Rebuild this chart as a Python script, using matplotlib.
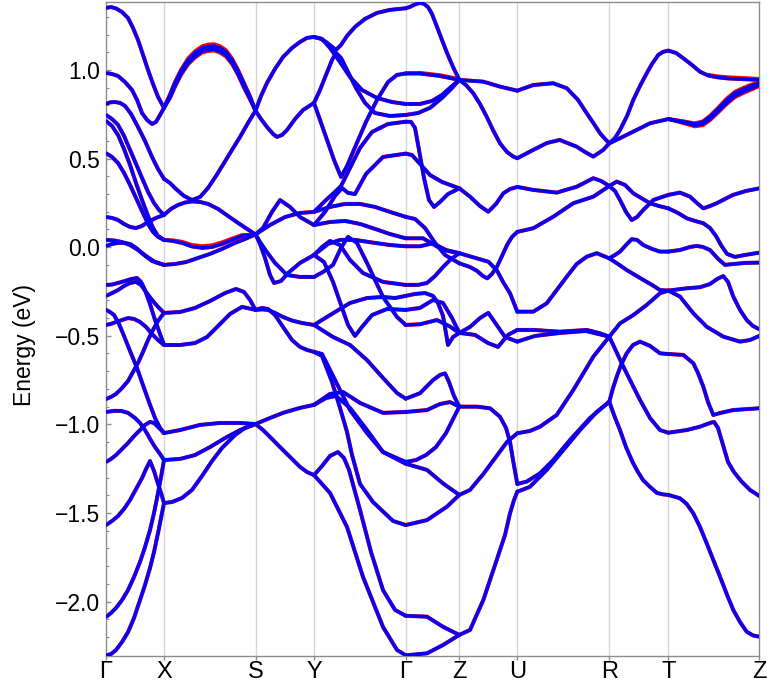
import matplotlib.pyplot as plt
from matplotlib.ticker import MultipleLocator, FuncFormatter

plt.rcParams['font.family'] = ['Liberation Sans', 'DejaVu Sans']

# path length along the k-path (arbitrary units) and the high-symmetry labels
K_TICKS = [0, 58, 149.5, 208, 299.7, 353.3, 411.3, 503.3, 562.3, 653.3]
K_LABELS = ["Γ", "X", "S", "Y", "Γ", "Z", "U", "R", "T", "Z"]
E_TICKS = [-2.0, -1.5, -1.0, -0.5, 0.0, 0.5, 1.0]
E_RANGE = (-2.307, 1.385)

# bands, segment by segment: each band piece is a list of (k, E[eV])
GX = [
    [(0, 1.350), (5, 1.355), (10, 1.347), (16, 1.327), (22, 1.293), (27, 1.237), (32, 1.169), (37, 1.085), (42, 1.000), (47, 0.921), (52, 0.848), (58, 0.786)],
    [(0, 0.983), (6, 0.977), (12, 0.966), (19, 0.932), (26, 0.887), (31, 0.831), (36, 0.757), (41, 0.718), (46, 0.695), (50, 0.707), (54, 0.746), (58, 0.786)],
    [(0, 0.808), (4, 0.817), (9, 0.819), (14, 0.814), (19, 0.797), (25, 0.752), (32, 0.678), (39, 0.599), (46, 0.509), (52, 0.441), (58, 0.385)],
    [(0, 0.746), (6, 0.723), (12, 0.690), (18, 0.628), (24, 0.549), (30, 0.470), (36, 0.390), (42, 0.312), (48, 0.249), (53, 0.210), (58, 0.182)],
    [(0, 0.712), (6, 0.684), (12, 0.633), (18, 0.554), (24, 0.464), (30, 0.362), (36, 0.266), (42, 0.176), (47, 0.108), (52, 0.063), (58, 0.041)],
    [(0, 0.530), (6, 0.509), (12, 0.475), (18, 0.419), (24, 0.351), (30, 0.278), (36, 0.204), (42, 0.131), (47, 0.086), (52, 0.058), (58, 0.041)],
    [(0, 0.170), (6, 0.165), (12, 0.153), (18, 0.131), (24, 0.114), (30, 0.108), (36, 0.120), (42, 0.142), (50, 0.165), (58, 0.182)],
    [(0, 0.041), (8, 0.038), (16, 0.029), (24, 0.012), (32, -0.016), (40, -0.050), (49, -0.084), (58, -0.100)],
    [(0, 0.007), (6, 0.018), (12, 0.024), (18, 0.024), (24, 0.018), (30, -0.004), (38, -0.044), (46, -0.078), (58, -0.100)],
    [(0, -0.213), (6, -0.211), (12, -0.202), (19, -0.191), (25, -0.180), (31, -0.174), (35, -0.196), (39, -0.242), (44, -0.321), (49, -0.411), (54, -0.490), (58, -0.552)],
    [(0, -0.275), (6, -0.259), (12, -0.242), (18, -0.219), (24, -0.202), (30, -0.196), (35, -0.213), (40, -0.253), (46, -0.298), (52, -0.337), (58, -0.371)],
    [(0, -0.354), (4, -0.366), (8, -0.383), (13, -0.433), (18, -0.501), (24, -0.586), (31, -0.682), (38, -0.795), (44, -0.890), (49, -0.964), (54, -1.020), (58, -1.049)],
    [(0, -0.439), (5, -0.433), (10, -0.422), (16, -0.411), (22, -0.400), (28, -0.405), (34, -0.422), (40, -0.450), (46, -0.490), (52, -0.524), (58, -0.552)],
    [(0, -0.857), (5, -0.845), (10, -0.828), (16, -0.795), (22, -0.755), (27, -0.704), (32, -0.653), (37, -0.591), (42, -0.524), (47, -0.467), (52, -0.416), (58, -0.371)],
    [(0, -0.930), (8, -0.924), (15, -0.924), (22, -0.935), (29, -0.964), (34, -0.992), (39, -1.032), (44, -1.082), (49, -1.128), (54, -1.167), (58, -1.201)],
    [(0, -1.212), (5, -1.195), (10, -1.173), (16, -1.139), (22, -1.105), (28, -1.066), (34, -1.032), (39, -1.003), (44, -0.986), (48, -0.992), (53, -1.020), (58, -1.049)],
    [(0, -1.568), (6, -1.545), (12, -1.517), (18, -1.477), (24, -1.427), (30, -1.365), (36, -1.303), (40, -1.252), (44, -1.207), (48, -1.263), (52, -1.336), (55, -1.387), (58, -1.444)],
    [(0, -2.087), (5, -2.064), (10, -2.036), (16, -1.991), (22, -1.935), (28, -1.861), (34, -1.776), (39, -1.692), (44, -1.596), (48, -1.500), (52, -1.387), (55, -1.297), (58, -1.201)],
    [(0, -2.303), (5, -2.296), (10, -2.273), (16, -2.228), (22, -2.172), (28, -2.092), (34, -1.991), (39, -1.906), (44, -1.810), (48, -1.720), (52, -1.613), (55, -1.528), (58, -1.444)],
]

XS = [
    [(58, 0.786), (64, 0.859), (69, 0.927), (75, 0.994), (82, 1.056), (89, 1.096), (96, 1.124), (102, 1.133), (108, 1.135), (114, 1.124), (120, 1.102), (126, 1.056), (132, 0.994), (138, 0.921), (144, 0.848), (149.5, 0.770)],
    [(58, 0.786), (64, 0.845), (69, 0.910), (75, 0.977), (82, 1.037), (89, 1.076), (96, 1.104), (102, 1.113), (108, 1.116), (114, 1.104), (120, 1.082), (126, 1.039), (132, 0.977), (138, 0.904), (144, 0.836), (149.5, 0.770)],
    [(58, 0.385), (64, 0.362), (70, 0.328), (78, 0.289), (86, 0.266), (94, 0.283), (102, 0.334), (110, 0.402), (118, 0.475), (126, 0.549), (134, 0.622), (142, 0.701), (149.5, 0.770)],
    [(58, 0.182), (65, 0.216), (72, 0.238), (79, 0.252), (86, 0.258), (94, 0.255), (102, 0.244), (112, 0.216), (122, 0.176), (132, 0.137), (141, 0.103), (149.5, 0.072)],
    [(58, 0.041), (67, 0.035), (76, 0.024), (86, 0.004), (96, -0.004), (106, 0.001), (116, 0.018), (126, 0.041), (136, 0.063), (149.5, 0.072)],
    [(58, -0.100), (69, -0.095), (80, -0.084), (92, -0.061), (104, -0.038), (116, -0.010), (129, 0.024), (139, 0.046), (149.5, 0.072)],
    [(58, -0.371), (74, -0.366), (89, -0.343), (104, -0.304), (119, -0.259), (130, -0.236), (138, -0.253), (144, -0.298), (149.5, -0.354)],
    [(58, -0.552), (74, -0.552), (89, -0.541), (101, -0.507), (112, -0.445), (124, -0.377), (136, -0.337), (149.5, -0.354)],
    [(58, -1.049), (74, -1.032), (94, -1.003), (114, -0.992), (134, -0.992), (149.5, -0.998)],
    [(58, -1.201), (74, -1.195), (89, -1.173), (104, -1.128), (119, -1.077), (134, -1.032), (149.5, -0.998)],
    [(58, -1.444), (66, -1.438), (76, -1.415), (86, -1.370), (96, -1.291), (106, -1.207), (116, -1.133), (129, -1.060), (139, -1.020), (149.5, -0.998)],
]

SY = [
    [(149.5, 0.770), (155, 0.853), (161, 0.927), (169, 1.006), (177, 1.073), (186, 1.124), (194, 1.158), (201, 1.181), (208, 1.186)],
    [(149.5, 0.770), (155, 0.723), (161, 0.678), (167, 0.639), (171, 0.622), (176, 0.633), (181, 0.661), (189, 0.723), (197, 0.774), (208, 0.814)],
    [(149.5, 0.072), (157, 0.108), (166, 0.199), (174, 0.266), (184, 0.227), (194, 0.170), (208, 0.125)],
    [(149.5, 0.072), (164, 0.125), (179, 0.170), (194, 0.193), (208, 0.199)],
    [(149.5, 0.072), (154, 0.018), (159, -0.061), (164, -0.157), (168, -0.202), (175, -0.191), (182, -0.146), (194, -0.089), (208, -0.044)],
    [(149.5, 0.072), (154, 0.029), (160, -0.021), (169, -0.089), (181, -0.157), (194, -0.168), (208, -0.168)],
    [(149.5, -0.354), (156, -0.351), (162, -0.354), (169, -0.371), (177, -0.394), (186, -0.414), (196, -0.428), (208, -0.439)],
    [(149.5, -0.354), (156, -0.343), (162, -0.349), (169, -0.383), (177, -0.450), (186, -0.524), (194, -0.563), (201, -0.580), (208, -0.591)],
    [(149.5, -0.998), (164, -0.964), (177, -0.935), (194, -0.907), (208, -0.890)],
    [(149.5, -0.998), (157, -1.032), (164, -1.071), (171, -1.111), (177, -1.145), (184, -1.184), (194, -1.240), (201, -1.269), (208, -1.286)],
]

YG = [
    [(208, 1.186), (214, 1.178), (220, 1.158), (225, 1.135), (230, 1.113), (235, 1.141), (241, 1.192), (249, 1.243), (259, 1.288), (271, 1.322), (284, 1.339), (299.7, 1.348)],
    [(208, 1.186), (216, 1.175), (224, 1.124), (234, 1.045), (244, 0.960), (256, 0.887), (271, 0.842), (286, 0.819), (299.7, 0.808)],
    [(208, 0.814), (214, 0.887), (220, 0.972), (226, 1.056), (230, 1.096), (235, 1.068), (242, 0.989), (250, 0.898), (259, 0.814), (269, 0.757), (284, 0.740), (299.7, 0.746)],
    [(208, 0.814), (214, 0.718), (221, 0.605), (228, 0.492), (235, 0.396), (241, 0.458), (250, 0.577), (260, 0.707), (271, 0.831), (282, 0.932), (291, 0.972), (299.7, 0.980)],
    [(208, 0.199), (220, 0.266), (229, 0.312), (235, 0.345), (244, 0.447), (254, 0.560), (266, 0.650), (282, 0.695), (299.7, 0.708)],
    [(208, 0.125), (219, 0.199), (229, 0.289), (236, 0.334), (242, 0.306), (249, 0.300), (260, 0.413), (277, 0.509), (299.7, 0.528)],
    [(208, 0.199), (224, 0.227), (239, 0.244), (254, 0.244), (269, 0.227), (284, 0.199), (299.7, 0.171)],
    [(208, 0.125), (224, 0.142), (239, 0.148), (254, 0.131), (269, 0.103), (284, 0.074), (299.7, 0.050)],
    [(208, -0.044), (216, 0.001), (224, 0.035), (234, 0.012), (244, -0.072), (257, -0.146), (277, -0.196), (299.7, -0.213)],
    [(208, -0.044), (222, 0.018), (234, 0.041), (249, 0.041), (269, 0.024), (284, 0.012), (299.7, 0.005)],
    [(208, -0.168), (217, -0.140), (227, -0.100), (235, -0.004), (242, 0.058), (251, 0.024), (261, -0.089), (277, -0.281), (291, -0.394), (299.7, -0.439)],
    [(208, -0.044), (218, -0.084), (227, -0.196), (235, -0.326), (242, -0.439), (249, -0.501), (256, -0.450), (266, -0.383), (281, -0.349), (299.7, -0.354)],
    [(208, -0.439), (224, -0.383), (244, -0.315), (261, -0.287), (277, -0.281), (289, -0.287), (299.7, -0.275)],
    [(208, -0.439), (227, -0.507), (244, -0.552), (261, -0.637), (277, -0.738), (291, -0.823), (299.7, -0.855)],
    [(208, -0.591), (216, -0.603), (224, -0.693), (234, -0.806), (244, -0.919), (261, -1.049), (277, -1.156), (299.7, -1.212)],
    [(208, -0.591), (216, -0.614), (226, -0.761), (234, -0.907), (241, -1.043), (246, -1.173), (254, -1.336), (267, -1.438), (287, -1.545), (299.7, -1.568)],
    [(208, -0.890), (224, -0.828), (237, -0.817), (254, -0.879), (277, -0.935), (299.7, -0.930)],
    [(208, -0.890), (220, -0.851), (230, -0.840), (244, -0.907), (261, -1.032), (277, -1.156), (299.7, -1.222)],
    [(208, -1.286), (216, -1.235), (224, -1.178), (232, -1.156), (238, -1.190), (243, -1.257), (254, -1.483), (265, -1.720), (277, -1.935), (289, -2.047), (299.7, -2.080)],
    [(208, -1.286), (224, -1.387), (241, -1.579), (257, -1.861), (277, -2.143), (291, -2.273), (299.7, -2.303)],
]

GZ = [
    [(299.7, 1.348), (304, 1.356), (309, 1.370), (314, 1.378), (318, 1.373), (322, 1.355), (326, 1.316), (331, 1.243), (336, 1.169), (341, 1.096), (347, 1.017), (353.3, 0.944)],
    [(299.7, 0.980), (314, 0.980), (334, 0.966), (353.3, 0.944)],
    [(299.7, 0.808), (314, 0.808), (326, 0.825), (336, 0.859), (345, 0.904), (353.3, 0.944)],
    [(299.7, 0.746), (312, 0.757), (324, 0.786), (336, 0.842), (346, 0.898), (353.3, 0.944)],
    [(299.7, 0.708), (305, 0.707), (309, 0.673), (313, 0.549), (318, 0.390), (323, 0.266), (328, 0.227), (334, 0.255), (342, 0.300), (353.3, 0.332)],
    [(299.7, 0.528), (306, 0.520), (314, 0.470), (324, 0.407), (336, 0.368), (353.3, 0.332)],
    [(299.7, 0.171), (309, 0.159), (319, 0.108), (329, 0.024), (339, -0.044), (353.3, -0.091)],
    [(299.7, 0.050), (317, 0.050), (337, -0.016), (353.3, -0.034)],
    [(299.7, 0.005), (314, 0.005), (327, 0.022), (340, -0.016), (353.3, -0.034)],
    [(299.7, -0.213), (312, -0.213), (321, -0.202), (329, -0.163), (337, -0.112), (345, -0.067), (353.3, -0.034)],
    [(299.7, -0.275), (309, -0.264), (319, -0.259), (327, -0.275), (332, -0.315), (337, -0.388), (342, -0.552), (347, -0.507), (353.3, -0.484)],
    [(299.7, -0.354), (314, -0.343), (327, -0.298), (337, -0.315), (346, -0.400), (353.3, -0.484)],
    [(299.7, -0.439), (314, -0.435), (331, -0.411), (344, -0.448), (353.3, -0.484)],
    [(299.7, -0.855), (314, -0.824), (327, -0.750), (334, -0.721), (339, -0.712), (343, -0.761), (348, -0.840), (353.3, -0.900)],
    [(299.7, -0.930), (321, -0.919), (334, -0.885), (344, -0.874), (353.3, -0.900)],
    [(299.7, -1.212), (310, -1.201), (320, -1.173), (330, -1.128), (340, -1.049), (353.3, -0.900)],
    [(299.7, -1.222), (321, -1.257), (337, -1.333), (353.3, -1.398)],
    [(299.7, -1.568), (321, -1.540), (341, -1.464), (353.3, -1.398)],
    [(299.7, -2.080), (321, -2.085), (337, -2.142), (353.3, -2.188)],
    [(299.7, -2.303), (321, -2.292), (337, -2.245), (353.3, -2.188)],
]

ZU = [
    [(353.3, 0.944), (377.3, 0.934), (394, 0.906), (411.3, 0.883)],
    [(353.3, 0.944), (360, 0.915), (367.3, 0.868), (374, 0.808), (380.7, 0.736), (387, 0.661), (394, 0.586), (401, 0.537), (407.3, 0.511), (411.3, 0.502)],
    [(353.3, 0.332), (364, 0.285), (374, 0.232), (382.3, 0.200), (390, 0.244), (397.3, 0.304), (404, 0.328), (411.3, 0.340)],
    [(353.3, -0.034), (370.7, -0.063), (382.3, -0.082), (390.7, -0.129), (397, -0.196), (404, -0.260), (411.3, -0.364)],
    [(353.3, -0.091), (364, -0.112), (371, -0.134), (377, -0.163), (381.3, -0.176), (386, -0.151), (391, -0.110), (396, -0.050), (401, 0.012), (406, 0.058), (411.3, 0.086)],
    [(353.3, -0.484), (364, -0.450), (374, -0.400), (382.3, -0.371), (390.7, -0.439), (399, -0.507), (411.3, -0.533)],
    [(353.3, -0.484), (369, -0.495), (382, -0.541), (392, -0.563), (402, -0.495), (411.3, -0.467)],
    [(353.3, -0.900), (370.7, -0.900), (384, -0.909), (394, -0.957), (400, -1.020), (404, -1.099), (407, -1.201), (411.3, -1.336)],
    [(353.3, -1.398), (364, -1.370), (377.3, -1.280), (390.7, -1.178), (401, -1.099), (411.3, -1.050)],
    [(353.3, -2.188), (364, -2.160), (377.3, -1.991), (390.7, -1.765), (399, -1.624), (404, -1.502), (408, -1.427), (411.3, -1.380)],
]

UR = [
    [(411.3, 0.883), (427.3, 0.915), (447.3, 0.925), (460.7, 0.897), (472, 0.831), (480.7, 0.756), (488, 0.695), (494, 0.643), (499, 0.611), (503.3, 0.586)],
    [(411.3, 0.502), (427.3, 0.549), (441, 0.588), (453.7, 0.605), (470.7, 0.567), (479, 0.537), (487.3, 0.511), (497.3, 0.549), (503.3, 0.586)],
    [(411.3, 0.340), (427.3, 0.323), (450.7, 0.308), (470.7, 0.341), (487.3, 0.389), (495, 0.374), (503.3, 0.345)],
    [(411.3, 0.086), (427.3, 0.107), (447.3, 0.172), (467.3, 0.248), (487.3, 0.285), (503.3, 0.345)],
    [(411.3, -0.364), (427.3, -0.364), (440.7, -0.317), (450.7, -0.242), (460.7, -0.167), (470.7, -0.095), (480.7, -0.054), (490.7, -0.034), (503.3, -0.063)],
    [(411.3, -0.467), (427.3, -0.467), (454, -0.477), (480.7, -0.467), (494, -0.486), (503.3, -0.505)],
    [(411.3, -0.533), (429, -0.501), (454, -0.484), (480, -0.473), (503.3, -0.505)],
    [(411.3, -1.050), (424, -1.037), (434, -1.013), (450.7, -0.947), (467.3, -0.806), (487.3, -0.618), (503.3, -0.505)],
    [(411.3, -1.336), (420.7, -1.323), (434, -1.276), (447.3, -1.201), (464, -1.088), (484, -0.964), (503.3, -0.872)],
    [(411.3, -1.380), (424, -1.352), (440.7, -1.257), (457.3, -1.145), (474, -1.032), (490.7, -0.930), (503.3, -0.872)],
]

RT = [
    [(503.3, 0.586), (509, 0.616), (514, 0.661), (521, 0.740), (527.3, 0.831), (534, 0.910), (540.7, 0.981), (546, 1.034), (552.3, 1.085), (557, 1.102), (562.3, 1.109)],
    [(503.3, 0.586), (514, 0.615), (527.3, 0.652), (544, 0.699), (562.3, 0.723)],
    [(503.3, 0.345), (509, 0.317), (514, 0.266), (520, 0.199), (525.7, 0.153), (531, 0.170), (537.3, 0.210), (547.3, 0.266), (562.3, 0.295)],
    [(503.3, 0.345), (510.7, 0.370), (519, 0.351), (527.3, 0.304), (535, 0.278), (544, 0.248), (553, 0.232), (562.3, 0.219)],
    [(503.3, -0.063), (509, -0.044), (514, -0.025), (520, 0.012), (525.7, 0.045), (531, 0.041), (537.3, 0.012), (546, -0.010), (554, -0.025), (562.3, -0.025)],
    [(503.3, -0.063), (512, -0.095), (520.7, -0.129), (529, -0.157), (537.3, -0.185), (546, -0.213), (554, -0.242), (562.3, -0.245)],
    [(503.3, -0.505), (514, -0.430), (527.3, -0.383), (540.7, -0.326), (554, -0.260), (562.3, -0.245)],
    [(503.3, -0.505), (510, -0.586), (517.3, -0.674), (526, -0.772), (534, -0.862), (544, -0.964), (554, -1.032), (562.3, -1.047)],
    [(503.3, -0.872), (507, -0.795), (510.7, -0.731), (515, -0.665), (520.7, -0.599), (527, -0.552), (534, -0.533), (544, -0.557), (554, -0.599), (562.3, -0.603)],
    [(503.3, -0.872), (508, -0.947), (514, -1.032), (520, -1.128), (527, -1.218), (532, -1.269), (537, -1.314), (544, -1.353), (551, -1.387), (557, -1.395), (562.3, -1.398)],
]

TZ = [
    [(562.3, 1.109), (570, 1.096), (577.3, 1.066), (586, 1.028), (594, 0.990), (602, 0.969), (610.7, 0.959), (622, 0.952), (634, 0.949), (653.3, 0.944)],
    [(562.3, 0.723), (577.3, 0.708), (589, 0.695), (597, 0.706), (604, 0.736), (612, 0.780), (620.7, 0.831), (629, 0.870), (637.3, 0.891), (645, 0.910), (653.3, 0.925)],
    [(562.3, 0.723), (577.3, 0.704), (589, 0.687), (597, 0.695), (604, 0.723), (612, 0.766), (620.7, 0.814), (629, 0.853), (637.3, 0.876), (645, 0.895), (653.3, 0.915)],
    [(562.3, 0.295), (574, 0.308), (584, 0.285), (591, 0.249), (597.3, 0.219), (604, 0.232), (610.7, 0.248), (627, 0.295), (640, 0.317), (653.3, 0.332)],
    [(562.3, 0.219), (572, 0.193), (580.7, 0.163), (589, 0.148), (597.3, 0.135), (604, 0.108), (610, 0.063), (615, 0.012), (621, -0.038), (629, -0.055), (639, -0.044), (653.3, -0.031)],
    [(562.3, -0.025), (574, -0.016), (584, 0.001), (590.7, 0.007), (597, 0.001), (604, -0.016), (612.3, -0.067), (619, -0.100), (627.3, -0.095), (639, -0.089), (653.3, -0.087)],
    [(562.3, -0.245), (580.7, -0.232), (594, -0.226), (604, -0.208), (611, -0.180), (617.3, -0.163), (622, -0.196), (627.3, -0.279), (634, -0.354), (640.7, -0.411), (647, -0.445), (653.3, -0.463)],
    [(562.3, -0.245), (574, -0.279), (587.3, -0.373), (600.7, -0.449), (617.3, -0.505), (634, -0.533), (644, -0.524), (653.3, -0.501)],
    [(562.3, -0.603), (577.3, -0.608), (587.3, -0.655), (592, -0.710), (597.3, -0.787), (602, -0.874), (607.3, -0.947), (614, -0.936), (627.3, -0.919), (653.3, -0.909)],
    [(562.3, -1.047), (580.7, -1.032), (594, -1.013), (604, -0.992), (608, -0.986), (612, -1.020), (617, -1.116), (622, -1.212), (628, -1.269), (635, -1.319), (644, -1.370), (653.3, -1.404)],
    [(562.3, -1.398), (574, -1.417), (580.7, -1.449), (587.3, -1.502), (594, -1.579), (600.7, -1.671), (607.3, -1.765), (614, -1.859), (620.7, -1.957), (627.3, -2.047), (634, -2.115), (640.7, -2.170), (647, -2.191), (653.3, -2.198)],
]

# second calculation (red) where it separates from the blue bands
RED_SPLIT = [
    [(58, 0.786), (64, 0.866), (69, 0.936), (75, 1.004), (82, 1.067), (89, 1.107), (96, 1.135), (102, 1.145), (108, 1.147), (114, 1.136), (120, 1.113), (126, 1.067), (132, 1.004), (138, 0.930), (144, 0.855), (149.5, 0.770)],
    [(58, 0.786), (64, 0.840), (69, 0.903), (75, 0.970), (82, 1.029), (89, 1.068), (96, 1.096), (102, 1.105), (108, 1.108), (114, 1.096), (120, 1.074), (126, 1.031), (132, 0.970), (138, 0.897), (144, 0.831), (149.5, 0.770)],
    [(58, 0.041), (67, 0.040), (76, 0.032), (86, 0.014), (96, 0.007), (106, 0.012), (116, 0.029), (126, 0.050), (136, 0.070), (149.5, 0.072)],
    [(299.7, 0.983), (314, 0.985), (334, 0.972), (353.3, 0.950)],
    [(562.3, 0.723), (577.3, 0.712), (589, 0.700), (597, 0.712), (604, 0.743), (612, 0.788), (620.7, 0.840), (629, 0.879), (637.3, 0.900), (645, 0.918), (653.3, 0.933)],
    [(562.3, 0.723), (577.3, 0.699), (589, 0.680), (597, 0.687), (604, 0.715), (612, 0.758), (620.7, 0.806), (629, 0.845), (637.3, 0.868), (645, 0.887), (653.3, 0.907)],
    [(602, 0.975), (610.7, 0.966), (622, 0.960), (634, 0.957), (653.3, 0.951)],
]

SEGMENTS = [GX, XS, SY, YG, GZ, ZU, UR, RT, TZ]

BLUE = "#0000ff"
RED = "#ff0000"
FRAME = "#8c8c8c"

fig = plt.figure(figsize=(7.7, 6.88), dpi=100)
ax = fig.add_axes([0.1377, 0.0465, 0.8484, 0.9510])

for k in K_TICKS[1:-1]:
    ax.axvline(k, color="#d6d6d6", lw=1.0, zorder=1)

# red underlay first, blue on top
for seg in SEGMENTS:
    for band in seg:
        k, e = zip(*band)
        ax.plot(k, e, color=RED, lw=2.9, solid_capstyle="round", solid_joinstyle="round", zorder=2)
for band in RED_SPLIT:
    k, e = zip(*band)
    ax.plot(k, e, color=RED, lw=2.4, solid_capstyle="round", solid_joinstyle="round", zorder=2)
for seg in SEGMENTS:
    for band in seg:
        k, e = zip(*band)
        ax.plot(k, e, color=BLUE, lw=2.5, solid_capstyle="round", solid_joinstyle="round", zorder=3)

ax.set_xlim(K_TICKS[0], K_TICKS[-1])
ax.set_ylim(*E_RANGE)

ax.set_xticks(K_TICKS)
ax.set_xticklabels(K_LABELS, fontsize=17)
ax.tick_params(axis="x", direction="out", length=3, width=1, color=FRAME, pad=0.5)

ax.set_yticks(E_TICKS)
ax.yaxis.set_major_formatter(FuncFormatter(lambda v, p: f"{v:.1f}".replace("-", "\u2212")))
ax.yaxis.set_minor_locator(MultipleLocator(0.1))
ax.tick_params(axis="y", which="major", direction="in", length=3.5, width=1, color=FRAME, labelsize=16.5, pad=4)
ax.tick_params(axis="y", which="minor", direction="in", length=2, width=0.8, color=FRAME)

for s in ax.spines.values():
    s.set_color(FRAME)
    s.set_linewidth(1.0)

ax.set_ylabel("Energy (eV)", fontsize=16.5)
ax.yaxis.set_label_coords(-0.107, 0.475)

fig.savefig("out.png", dpi=100)
